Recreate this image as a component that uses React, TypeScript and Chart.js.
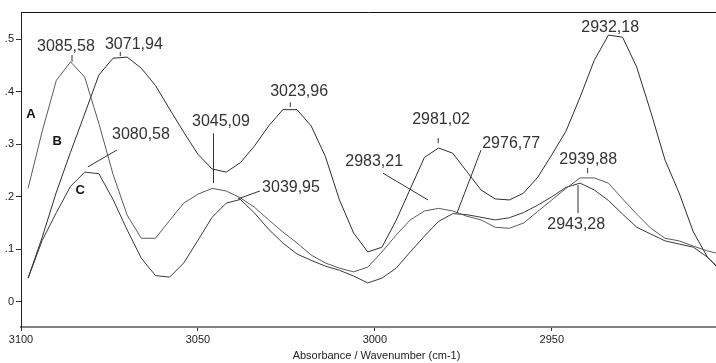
import React, { useEffect, useRef } from "react";
import { Chart, registerables } from "chart.js";
Chart.register(...registerables);

// Wavenumbers (cm-1), data spacing ~4 cm-1
const wavenumbers = [
  3098, 3094, 3090, 3086, 3082, 3078, 3074, 3070, 3066, 3062,
  3058, 3054, 3050, 3046, 3042, 3038, 3034, 3030, 3026, 3022,
  3018, 3014, 3010, 3006, 3002, 2998, 2994, 2990, 2986, 2982,
  2978, 2974, 2970, 2966, 2962, 2958, 2954, 2950, 2946, 2942,
  2938, 2934, 2930, 2926, 2922, 2918, 2914, 2910, 2906, 2902,
];

const seriesA = [
  0.216, 0.325, 0.422, 0.457, 0.428, 0.34, 0.243, 0.165, 0.121, 0.121,
  0.155, 0.188, 0.205, 0.216, 0.211, 0.198, 0.18, 0.156, 0.133, 0.112,
  0.089, 0.074, 0.064, 0.057, 0.066, 0.095, 0.127, 0.156, 0.173, 0.178,
  0.173, 0.163, 0.156, 0.142, 0.14, 0.15, 0.172, 0.194, 0.216, 0.236,
  0.236, 0.226, 0.196, 0.167, 0.14, 0.121, 0.116, 0.106, 0.097, 0.09,
];

const seriesB = [
  0.045, 0.123, 0.209, 0.285, 0.358, 0.432, 0.464, 0.466, 0.445, 0.412,
  0.367, 0.323, 0.281, 0.253, 0.247, 0.265, 0.297, 0.335, 0.366, 0.366,
  0.335, 0.277, 0.194, 0.131, 0.095, 0.104, 0.155, 0.215, 0.275, 0.293,
  0.283, 0.248, 0.213, 0.196, 0.194, 0.207, 0.237, 0.28, 0.325, 0.39,
  0.46, 0.508, 0.504, 0.447, 0.361, 0.27, 0.207, 0.133, 0.085, 0.058,
];

const seriesC = [
  0.045, 0.117, 0.17, 0.22, 0.247, 0.244, 0.195, 0.137, 0.083, 0.05,
  0.047, 0.074, 0.117, 0.161, 0.188, 0.195, 0.169, 0.138, 0.112, 0.091,
  0.079, 0.068, 0.06, 0.049, 0.036, 0.045, 0.064, 0.095, 0.125, 0.153,
  0.168, 0.166, 0.161, 0.156, 0.16, 0.17, 0.184, 0.2, 0.218, 0.226,
  0.213, 0.193, 0.167, 0.142, 0.129, 0.116, 0.11, 0.104, 0.085, 0.058,
];

const xTickValues = [3100, 3050, 3000, 2950];
const yTickValues = [0, 0.1, 0.2, 0.3, 0.4, 0.5];
const xAxisTitle = "Absorbance / Wavenumber (cm-1)";

// Peak annotations (text, text anchor in data units, leader line in data units)
const peakLabels = [
  "3085,58", "3071,94", "3080,58", "3045,09", "3023,96", "3039,95",
  "2983,21", "2981,02", "2976,77", "2932,18", "2939,88", "2943,28",
];
const peakLabelPos = [
  [3087.3, 0.487], [3068.1, 0.489], [3066.1, 0.318], [3043.5, 0.344],
  [3021.4, 0.4], [3023.7, 0.217], [3000.2, 0.268], [2981.3, 0.348],
  [2961.5, 0.302], [2933.5, 0.523], [2939.7, 0.27], [2943.1, 0.148],
];
const peakLeaders: (number[] | null)[] = [
  [3085.58, 0.47, 3085.58, 0.457],
  [3071.94, 0.476, 3071.94, 0.468],
  [3081.1, 0.257, 3072.9, 0.289],
  [3045.6, 0.321, 3045.6, 0.226],
  [3023.9, 0.38, 3023.9, 0.371],
  [3038.7, 0.196, 3032.5, 0.211],
  [2997.7, 0.245, 2985.0, 0.194],
  [2982.1, 0.312, 2982.1, 0.302],
  [2970.0, 0.289, 2976.8, 0.169],
  null,
  [2939.88, 0.255, 2939.88, 0.245],
  [2942.6, 0.222, 2942.6, 0.169],
];
const curveNames = ["A", "B", "C"];
const curveNamePos = [[3097.2, 0.357], [3089.8, 0.306], [3083.3, 0.212]];

const FONT = "'Liberation Sans', Arial, sans-serif";

const annotationPlugin = {
  id: "spectrumAnnotations",
  afterDatasetsDraw(chart: any) {
    const { ctx, chartArea, scales } = chart;
    const xs = scales.x;
    const ys = scales.y;
    ctx.save();
    // top frame line
    ctx.strokeStyle = "#111";
    ctx.lineWidth = 1;
    ctx.beginPath();
    ctx.moveTo(chartArea.left, chartArea.top + 0.5);
    ctx.lineTo(chartArea.right, chartArea.top + 0.5);
    ctx.stroke();

    // leader lines
    ctx.strokeStyle = "#333";
    ctx.lineWidth = 1;
    peakLeaders.forEach((l) => {
      if (!l) return;
      ctx.beginPath();
      ctx.moveTo(xs.getPixelForValue(l[0]), ys.getPixelForValue(l[1]));
      ctx.lineTo(xs.getPixelForValue(l[2]), ys.getPixelForValue(l[3]));
      ctx.stroke();
    });

    // peak labels
    ctx.fillStyle = "#333";
    ctx.font = `16px ${FONT}`;
    ctx.textAlign = "center";
    ctx.textBaseline = "middle";
    peakLabels.forEach((t, i) => {
      const p = peakLabelPos[i];
      ctx.fillText(t, xs.getPixelForValue(p[0]), ys.getPixelForValue(p[1]));
    });

    // curve names
    ctx.fillStyle = "#111";
    ctx.font = `bold 13px ${FONT}`;
    curveNames.forEach((t, i) => {
      const p = curveNamePos[i];
      ctx.fillText(t, xs.getPixelForValue(p[0]), ys.getPixelForValue(p[1]));
    });

    ctx.restore();
  },
  afterDraw(chart: any) {
    const { ctx, chartArea } = chart;
    ctx.save();
    ctx.fillStyle = "#222";
    ctx.font = `11px ${FONT}`;
    ctx.textAlign = "center";
    ctx.textBaseline = "middle";
    ctx.fillText(xAxisTitle, (chartArea.left + chartArea.right) / 2 + 8, chart.height - 7);
    ctx.restore();
  },
};

export default function App() {
  const canvasRef = useRef<HTMLCanvasElement | null>(null);

  useEffect(() => {
    document.body.style.margin = "0";
    const canvas = canvasRef.current;
    if (!canvas) return;
    const mk = (vals: number[]) => wavenumbers.map((w, i) => ({ x: w, y: vals[i] }));
    const chart = new Chart(canvas, {
      type: "line",
      data: {
        datasets: [
          { label: "A", data: mk(seriesA), borderColor: "#5a5a5a", borderWidth: 1, pointRadius: 0, tension: 0, fill: false },
          { label: "B", data: mk(seriesB), borderColor: "#2e2e2e", borderWidth: 1, pointRadius: 0, tension: 0, fill: false },
          { label: "C", data: mk(seriesC), borderColor: "#3a3a3a", borderWidth: 1, pointRadius: 0, tension: 0, fill: false },
        ],
      },
      options: {
        responsive: false,
        animation: false,
        events: [],
        layout: { padding: { top: 12, right: 0, left: 0, bottom: 0 } },
        plugins: { legend: { display: false }, tooltip: { enabled: false }, title: { display: false } },
        scales: {
          x: {
            type: "linear",
            reverse: true,
            min: 2903.6,
            max: 3100,
            afterBuildTicks: (s: any) => {
              s.ticks = xTickValues.map((v) => ({ value: v }));
            },
            afterFit: (s: any) => {
              s.height = 36;
            },
            ticks: {
              autoSkip: false,
              maxRotation: 0,
              color: "#222",
              font: { size: 11, family: FONT },
              padding: 2,
              callback: (v: any) => String(v),
            },
            grid: { drawOnChartArea: false, drawTicks: true, tickLength: 4, color: "#333" },
            border: { display: true, color: "#808080", width: 2 },
          },
          y: {
            type: "linear",
            min: -0.048,
            max: 0.552,
            afterBuildTicks: (s: any) => {
              s.ticks = yTickValues.map((v) => ({ value: v }));
            },
            afterFit: (s: any) => {
              s.width = 21;
            },
            ticks: {
              color: "#222",
              font: { size: 11, family: FONT },
              padding: 2,
              callback: (v: any) => (v === 0 ? "0" : String(v).replace(/^0/, "")),
            },
            grid: { drawOnChartArea: false, drawTicks: true, tickLength: 5, color: "#333" },
            border: { display: true, color: "#222", width: 1 },
          },
        },
      },
      plugins: [annotationPlugin],
    } as any);
    return () => chart.destroy();
  }, []);

  return (
    <div style={{ width: 716, height: 363, position: "relative", background: "#fff" }}>
      <canvas ref={canvasRef} width={716} height={363} style={{ display: "block" }} />
    </div>
  );
}
